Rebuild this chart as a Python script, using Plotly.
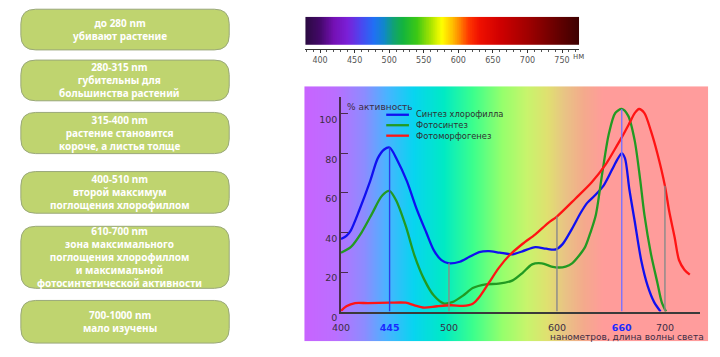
import numpy as np
import plotly.graph_objects as go

W, H = 720, 357

# ---------------- data ----------------
box_lines = [
    ["до 280 nm", "убивают растение"],
    ["280-315 nm", "губительны для", "большинства растений"],
    ["315-400 nm", "растение становится", "короче, а листья толще"],
    ["400-510 nm", "второй максимум", "поглощения хлорофиллом"],
    ["610-700 nm", "зона максимального", "поглощения хлорофиллом", "и максимальной",
     "фотосинтетической активности"],
    ["700-1000 nm", "мало изучены"],
]

series_names = ["Синтез хлорофилла", "Фотосинтез", "Фотоморфогенез"]

wl_chl = [400, 405, 409, 417, 427, 434, 440, 445, 452, 461, 470, 479, 486, 493, 500,
          510, 519, 528, 537, 547, 559, 568, 580, 590, 599, 605, 614, 622, 628, 635,
          643, 651, 656, 660, 663, 667, 672, 678, 684, 690, 696]
val_chl = [36.7, 38.3, 41, 51.4, 66, 77.5, 82, 83, 76.7, 66, 52, 40, 31, 26, 24.4,
           25.2, 27.7, 30.1, 30.6, 29.8, 29, 30.5, 32.6, 31.8, 31.5, 34, 42, 50, 55, 58.7,
           63.6, 71.8, 77, 80, 77.5, 62, 45.7, 26, 13, 4.8, 0]

wl_ps = [400, 409, 419, 429, 437, 443, 445, 451, 460, 468, 477, 486, 495, 503, 513,
         522, 534, 546, 559, 568, 577, 586, 595, 602, 608, 614, 620, 626, 631, 636,
         642, 648, 654, 660, 666, 672, 677, 681, 687, 693, 697, 701]
val_ps = [29.8, 32.6, 40, 49.8, 57.9, 60.9, 61, 56.3, 43.2, 28.5, 16.3, 8.1, 4.2, 4.8, 8.1,
          11.9, 13.8, 14.1, 15.8, 19.5, 23.9, 24.4, 22.8, 22.3, 22.8, 24.4, 28, 32.6, 40, 48.9,
          70.2, 89.8, 100.5, 102.5, 99, 86.5, 67, 48.9, 29.3, 14.6, 4.8, 0]

wl_pm = [400, 405, 413, 425, 445, 460, 468, 477, 489, 502, 513, 522, 528, 537, 546,
         556, 568, 580, 592, 600, 617, 632, 645, 654, 660, 667, 672, 676, 681, 687,
         693, 700, 704, 709, 713, 718, 723]
val_pm = [0.4, 2.7, 4.3, 4.3, 4.5, 4.5, 3.2, 2, 2.7, 3.2, 2.9, 4, 7.3, 14.6, 22,
          28.5, 34.2, 39.1, 44.9, 48.1, 57.1, 65.3, 74.3, 82.5, 88.1, 95.2, 100.4, 102.5, 100.4, 91.4,
          80, 63.6, 50.6, 37.5, 26.1, 21.2, 18.7]

marker_wl = [445, 500, 600, 660, 700]
x_ticks = [400, 445, 500, 600, 660, 700]
y_ticks = [0, 20, 40, 60, 80, 100]
spectrum_ticks = [400, 450, 500, 550, 600, 650, 700, 750]

# ---------------- styles ----------------
FONT = "DejaVu Sans"
TXT = "#3c2c44"
series_colors = ["#1010f0", "#229a22", "#ff1414"]
marker_colors = ["#2d3ce6", "#8a8a8a", "#8a8a8a", "#7a72ff", "#8a8a8a"]
highlight_ticks = {445: "#1a2aff", 660: "#1a2aff"}


def fx(px):
    return px / W


def fy(py):
    return 1 - py / H


fig = go.Figure()

# ---- background gradient panel (subplot xy) ----
pan_l, pan_r, pan_t, pan_b = 299, 708, 89, 352
pan_stops = [(299, "#c864ff"), (330, "#bb6eff"), (360, "#8c8cff"), (383, "#48b4ff"),
             (410, "#08d4f0"), (440, "#00eac4"), (470, "#3cff8c"), (500, "#96ff6c"),
             (525, "#c8f46c"), (545, "#e0e070"), (562, "#e8c484"), (582, "#f4aa8c"),
             (602, "#ff9c9a"), (708, "#ff9c9c")]
pan_cs = [[(p - pan_l) / (pan_r - pan_l), c] for p, c in pan_stops]
nb = 400
xe = np.linspace(0, 1, nb + 1)
xc = (xe[:-1] + xe[1:]) / 2
fig.add_trace(go.Heatmap(x=xe, y=[0, 1], z=[xc], colorscale=pan_cs, zmin=0, zmax=1,
                         showscale=False, hoverinfo="skip", xaxis="x", yaxis="y"))

# ---- curves (subplot x2y2) ----
curves = [(wl_chl, val_chl), (wl_ps, val_ps), (wl_pm, val_pm)]
for (wl, v), name, col in zip(curves, series_names, series_colors):
    fig.add_trace(go.Scatter(x=wl, y=v, mode="lines", name=name,
                             line=dict(color=col, width=2.3, shape="spline", smoothing=0.8),
                             xaxis="x2", yaxis="y2", showlegend=False, hoverinfo="skip"))

# vertical marker lines up to the highest curve at that wavelength
for w, col in zip(marker_wl, marker_colors):
    top = max(float(np.interp(w, wl, v, left=0, right=0)) for wl, v in curves)
    fig.add_trace(go.Scatter(x=[w, w], y=[0, top], mode="lines",
                             line=dict(color=col, width=1.4),
                             xaxis="x2", yaxis="y2", showlegend=False, hoverinfo="skip"))

# ---- spectrum bar (subplot x3y3) ----
sp_l, sp_r = 378.6, 774.7
sp_stops = [(378.6, "#2a0a40"), (400, "#44086a"), (420, "#7410b4"), (440, "#7a20d8"),
            (460, "#4a48f0"), (478, "#2070f4"), (493, "#1088c8"), (505, "#10a078"),
            (520, "#14b43c"), (540, "#3cc814"), (560, "#a8e400"), (576, "#ffff00"),
            (590, "#ffc400"), (602, "#ff8400"), (614, "#ff3a00"), (630, "#f01000"),
            (660, "#d00000"), (700, "#a00000"), (740, "#6a0000"), (774.7, "#3c0000")]
sp_cs = [[(n - sp_l) / (sp_r - sp_l), c] for n, c in sp_stops]
sxe = np.linspace(sp_l, sp_r, nb + 1)
sxc = (sxe[:-1] + sxe[1:]) / 2
fig.add_trace(go.Heatmap(x=sxe, y=[0.12, 1], z=[sxc], colorscale=sp_cs, zmin=sp_l, zmax=sp_r,
                         showscale=False, hoverinfo="skip", xaxis="x3", yaxis="y3"))

# ---------------- layout ----------------
ticktext = []
for t in x_ticks:
    if t in highlight_ticks:
        ticktext.append(f"<b><span style='color:{highlight_ticks[t]}'>{t}</span></b>")
    else:
        ticktext.append(str(t))

x0_px, x1_px = 336.2, 700.0
y0_px, y1_px = 321.5, 100.0
fig.update_layout(
    width=W, height=H, margin=dict(l=0, r=0, t=0, b=0),
    paper_bgcolor="white", plot_bgcolor="rgba(0,0,0,0)",
    showlegend=False,
    xaxis=dict(domain=[fx(pan_l), fx(pan_r)], range=[0, 1], visible=False, fixedrange=True),
    yaxis=dict(domain=[fy(pan_b), fy(pan_t)], range=[0, 1], visible=False, fixedrange=True),
    xaxis2=dict(domain=[fx(x0_px), fx(x1_px)], range=[400, 732.7], anchor="y2",
                showline=True, linecolor="#3a3a3a", linewidth=1.5, showgrid=False,
                zeroline=False, ticks="", tickvals=x_ticks, ticktext=ticktext,
                ticklabelstandoff=6,
                tickfont=dict(family=FONT, size=9.5, color=TXT)),
    yaxis2=dict(domain=[fy(y0_px), fy(y1_px)], range=[0, 108.6], anchor="x2",
                showline=True, linecolor="#4a2c4c", linewidth=1.5, showgrid=False,
                zeroline=False, ticks="inside", ticklen=7, tickcolor="#4a2c4c",
                tickwidth=1.2, tickvals=y_ticks, ticklabelshift=6,
                tickfont=dict(family=FONT, size=9.5, color=TXT)),
    xaxis3=dict(domain=[fx(300), fx(577.3)], range=[sp_l, sp_r], anchor="y3",
                showline=True, linecolor="#333333", linewidth=1.2, showgrid=False,
                zeroline=False, ticks="outside", ticklen=3, tickcolor="#333333",
                tickvals=spectrum_ticks,
                minor=dict(dtick=10, tick0=400, ticks="outside", ticklen=2, tickcolor="#555555"),
                tickfont=dict(family=FONT, size=8, color="#555555")),
    yaxis3=dict(domain=[fy(50.7), fy(17.3)], range=[0, 1], visible=False, fixedrange=True),
)

# left boxes
box_y = [(9.5, 51.5), (62, 104), (116, 158.5), (177, 220), (233.5, 297.5), (310, 354)]
bx0, bx1, rad = 12, 223, 15


def rrect(x0, y0, x1, y1, r):
    pts = [f"M {fx(x0 + r)},{fy(y0)}", f"L {fx(x1 - r)},{fy(y0)}",
           f"Q {fx(x1)},{fy(y0)} {fx(x1)},{fy(y0 + r)}", f"L {fx(x1)},{fy(y1 - r)}",
           f"Q {fx(x1)},{fy(y1)} {fx(x1 - r)},{fy(y1)}", f"L {fx(x0 + r)},{fy(y1)}",
           f"Q {fx(x0)},{fy(y1)} {fx(x0)},{fy(y1 - r)}", f"L {fx(x0)},{fy(y0 + r)}",
           f"Q {fx(x0)},{fy(y0)} {fx(x0 + r)},{fy(y0)}", "Z"]
    return " ".join(pts)


for (ya, yb), lines in zip(box_y, box_lines):
    fig.add_shape(type="path", path=rrect(bx0, ya, bx1, yb, rad), xref="paper", yref="paper",
                  fillcolor="#bfd46f", line=dict(color="#9aa87a", width=1))
    fig.add_annotation(x=fx(112), y=fy((ya + yb) / 2), xref="paper", yref="paper",
                       text="<br>".join(f"<b>{s}</b>" for s in lines), showarrow=False,
                       xanchor="center", yanchor="middle", align="center",
                       font=dict(family="Noto Sans", size=10, color="white"))

# chart texts
fig.add_annotation(x=fx(340), y=fy(110.7), xref="paper", yref="paper", text="% активность",
                   showarrow=False, xanchor="left", yanchor="middle",
                   font=dict(family=FONT, size=9, color=TXT))
fig.add_annotation(x=fx(705), y=fy(347.5), xref="paper", yref="paper",
                   text="нанометров, длина волны света", showarrow=False,
                   xanchor="right", yanchor="middle", borderpad=0,
                   font=dict(family=FONT, size=9, color=TXT))
fig.add_annotation(x=fx(569), y=fy(58.3), xref="paper", yref="paper", text="нм",
                   showarrow=False, xanchor="left", yanchor="middle",
                   font=dict(family=FONT, size=8, color="#555555"))

# legend: one multi-line text block with keyed line samples
leg_fs = 8.3
leg_step = leg_fs * 1.3
leg_mid = 129.2
leg_y = [leg_mid + (i - 1) * leg_step for i in range(len(series_names))]
for col, ly in zip(series_colors, leg_y):
    fig.add_shape(type="line", xref="paper", yref="paper", x0=fx(382), x1=fx(405),
                  y0=fy(ly), y1=fy(ly), line=dict(color=col, width=2.3))
fig.add_annotation(x=fx(411), y=fy(leg_mid), xref="paper", yref="paper",
                   text="<br>".join(series_names), showarrow=False, align="left",
                   xanchor="left", yanchor="middle", borderpad=0,
                   font=dict(family=FONT, size=leg_fs, color="#303030"))

fig.write_html("out.html", config={"displayModeBar": False},
               post_script="document.body.style.margin='0';document.body.style.overflow='hidden';")
